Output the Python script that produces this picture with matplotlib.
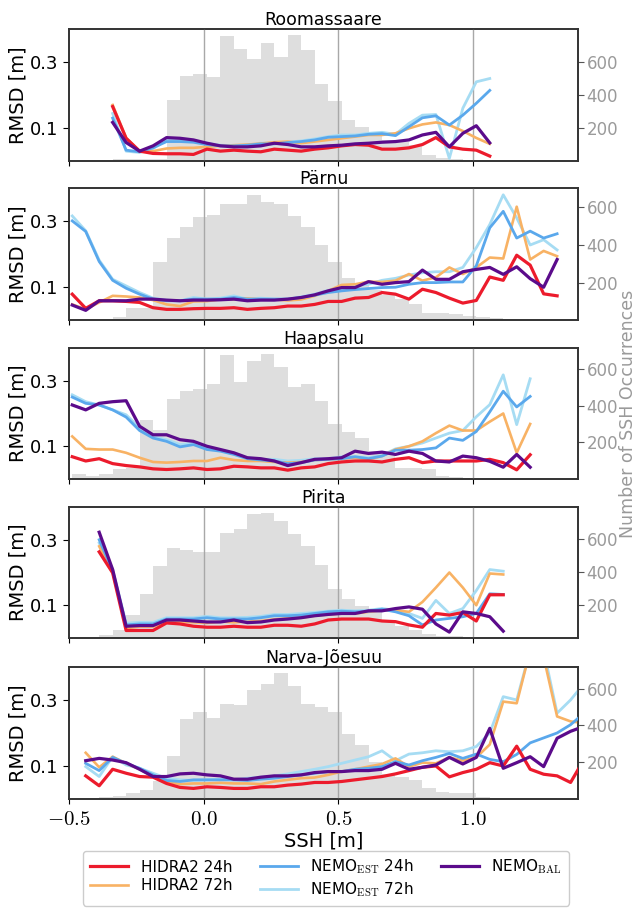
"""
RMSD vs SSH for five Estonian stations, with the SSH histogram behind
"""
import numpy as np
import matplotlib
matplotlib.use('Agg')
import matplotlib.pyplot as plt

plt.rcParams['font.family'] = 'DejaVu Sans'
plt.rcParams['mathtext.fontset'] = 'cm'

stations = ['Roomassaare', 'Pärnu', 'Haapsalu', 'Pirita', 'Narva-Jõesuu']

# left edges of the 0.05 m SSH bins (the RMSD points sit on the same grid)
ssh = np.round(-0.488 + 0.05 * np.arange(39), 3)

# index of the first RMSD point on the grid, per station
first_bin = [3, 0, 0, 2, 1]

# --- Roomassaare
roo_h24 = [0.165, 0.069, 0.030, 0.023, 0.022, 0.022, 0.020, 0.036, 0.030, 0.033,
           0.030, 0.028, 0.036, 0.033, 0.030, 0.036, 0.040, 0.046, 0.050, 0.048,
           0.036, 0.036, 0.040, 0.050, 0.071, 0.043, 0.036, 0.033, 0.015]
roo_h72 = [0.170, 0.070, 0.030, 0.030, 0.038, 0.040, 0.040, 0.043, 0.046, 0.048,
           0.050, 0.053, 0.057, 0.059, 0.054, 0.059, 0.064, 0.069, 0.074, 0.079,
           0.079, 0.084, 0.099, 0.111, 0.117, 0.109, 0.091, 0.070, 0.052]
roo_e24 = [0.130, 0.033, 0.028, 0.040, 0.059, 0.059, 0.057, 0.050, 0.046, 0.046,
           0.048, 0.052, 0.052, 0.056, 0.059, 0.064, 0.072, 0.074, 0.076, 0.081,
           0.083, 0.077, 0.104, 0.131, 0.137, 0.109, 0.139, 0.175, 0.214]
roo_e72 = [0.144, 0.030, 0.026, 0.038, 0.064, 0.064, 0.059, 0.054, 0.048, 0.046,
           0.048, 0.054, 0.054, 0.057, 0.061, 0.067, 0.074, 0.079, 0.079, 0.084,
           0.087, 0.081, 0.114, 0.139, 0.141, 0.008, 0.160, 0.240, 0.250]
roo_bal = [0.117, 0.056, 0.030, 0.046, 0.071, 0.069, 0.064, 0.054, 0.046, 0.043,
           0.043, 0.046, 0.054, 0.050, 0.043, 0.043, 0.046, 0.048, 0.052, 0.054,
           0.057, 0.059, 0.064, 0.079, 0.087, 0.043, 0.084, 0.107, 0.055]
roo_hist = [0, 0, 0, 15, 15, 15, 15, 370, 511, 527, 505, 753, 677, 616, 713, 628,
            760, 673, 465, 364, 248, 208, 174, 127, 117, 97, 36, 20, 10, 5, 3]

# --- Pärnu
par_h24 = [0.079, 0.036, 0.059, 0.059, 0.057, 0.054, 0.038, 0.033, 0.033, 0.035,
           0.036, 0.036, 0.038, 0.033, 0.036, 0.038, 0.043, 0.043, 0.048, 0.057,
           0.057, 0.067, 0.069, 0.084, 0.079, 0.064, 0.094, 0.084, 0.067, 0.052,
           0.060, 0.131, 0.121, 0.197, 0.167, 0.080, 0.074]
par_h72 = [0.048, 0.033, 0.054, 0.074, 0.072, 0.069, 0.061, 0.048, 0.043, 0.057,
           0.058, 0.063, 0.063, 0.066, 0.063, 0.063, 0.060, 0.063, 0.074, 0.089,
           0.107, 0.109, 0.117, 0.116, 0.120, 0.140, 0.120, 0.130, 0.160, 0.140,
           0.160, 0.190, 0.187, 0.344, 0.184, 0.210, 0.194]
par_e24 = [0.301, 0.269, 0.178, 0.121, 0.097, 0.079, 0.064, 0.059, 0.059, 0.064,
           0.064, 0.064, 0.069, 0.064, 0.064, 0.064, 0.064, 0.069, 0.076, 0.084,
           0.089, 0.093, 0.096, 0.099, 0.100, 0.109, 0.114, 0.114, 0.116, 0.116,
           0.165, 0.280, 0.330, 0.249, 0.270, 0.249, 0.262]
par_e72 = [0.316, 0.271, 0.182, 0.124, 0.104, 0.084, 0.067, 0.061, 0.059, 0.069,
           0.064, 0.067, 0.074, 0.064, 0.067, 0.064, 0.064, 0.071, 0.079, 0.091,
           0.094, 0.104, 0.109, 0.121, 0.127, 0.137, 0.144, 0.147, 0.147, 0.160,
           0.220, 0.290, 0.380, 0.310, 0.228, 0.244, 0.213]
par_bal = [0.046, 0.030, 0.059, 0.059, 0.059, 0.064, 0.064, 0.061, 0.059, 0.061,
           0.061, 0.062, 0.064, 0.059, 0.061, 0.061, 0.064, 0.069, 0.077, 0.089,
           0.099, 0.099, 0.117, 0.109, 0.114, 0.117, 0.152, 0.124, 0.124, 0.147,
           0.154, 0.160, 0.139, 0.162, 0.126, 0.100, 0.184]
par_hist = [0, 0, 0, 18, 64, 64, 308, 436, 498, 548, 562, 616, 616, 669, 628, 616,
            557, 495, 402, 308, 224, 192, 160, 135, 112, 89, 41, 41, 32, 23, 18,
            10, 5]

# --- Haapsalu
haa_h24 = [0.068, 0.055, 0.062, 0.047, 0.041, 0.037, 0.031, 0.029, 0.031, 0.034,
           0.029, 0.031, 0.039, 0.037, 0.034, 0.034, 0.027, 0.034, 0.037, 0.047,
           0.052, 0.055, 0.055, 0.052, 0.060, 0.065, 0.050, 0.055, 0.055, 0.055,
           0.055, 0.060, 0.050, 0.028, 0.074]
haa_h72 = [0.130, 0.092, 0.090, 0.090, 0.080, 0.065, 0.052, 0.050, 0.052, 0.055,
           0.055, 0.065, 0.058, 0.055, 0.055, 0.052, 0.050, 0.052, 0.058, 0.060,
           0.062, 0.065, 0.060, 0.070, 0.090, 0.100, 0.115, 0.140, 0.163, 0.148,
           0.148, 0.175, 0.200, 0.080, 0.168]
haa_e24 = [0.250, 0.231, 0.226, 0.211, 0.189, 0.148, 0.125, 0.115, 0.098, 0.105,
           0.090, 0.085, 0.075, 0.062, 0.058, 0.055, 0.047, 0.050, 0.058, 0.060,
           0.062, 0.068, 0.062, 0.070, 0.088, 0.088, 0.090, 0.095, 0.125, 0.118,
           0.145, 0.205, 0.268, 0.220, 0.252]
haa_e72 = [0.257, 0.236, 0.226, 0.211, 0.196, 0.156, 0.130, 0.120, 0.105, 0.110,
           0.095, 0.088, 0.078, 0.065, 0.060, 0.060, 0.055, 0.057, 0.062, 0.062,
           0.068, 0.068, 0.065, 0.072, 0.092, 0.100, 0.110, 0.125, 0.140, 0.148,
           0.190, 0.227, 0.318, 0.166, 0.306]
haa_bal = [0.226, 0.211, 0.231, 0.236, 0.239, 0.161, 0.135, 0.135, 0.120, 0.115,
           0.100, 0.090, 0.080, 0.065, 0.062, 0.055, 0.041, 0.050, 0.060, 0.062,
           0.065, 0.085, 0.078, 0.082, 0.075, 0.085, 0.078, 0.055, 0.052, 0.070,
           0.065, 0.054, 0.036, 0.075, 0.036]
haa_hist = [29, 15, 29, 55, 60, 322, 267, 436, 482, 495, 518, 678, 531, 647, 683,
            615, 506, 518, 427, 299, 256, 225, 152, 134, 60, 60, 55, 15, 11, 5]

# --- Pirita
pir_h24 = [0.263, 0.199, 0.023, 0.023, 0.023, 0.046, 0.043, 0.036, 0.033, 0.033,
           0.036, 0.033, 0.033, 0.039, 0.039, 0.036, 0.043, 0.055, 0.058, 0.058,
           0.058, 0.052, 0.050, 0.040, 0.033, 0.075, 0.070, 0.078, 0.052, 0.132,
           0.132]
pir_h72 = [0.280, 0.200, 0.030, 0.035, 0.035, 0.050, 0.050, 0.048, 0.046, 0.050,
           0.048, 0.050, 0.052, 0.057, 0.060, 0.062, 0.068, 0.072, 0.075, 0.075,
           0.080, 0.085, 0.085, 0.080, 0.110, 0.154, 0.200, 0.154, 0.100, 0.197,
           0.194]
pir_e24 = [0.300, 0.205, 0.040, 0.043, 0.043, 0.058, 0.058, 0.058, 0.062, 0.058,
           0.058, 0.058, 0.062, 0.068, 0.068, 0.070, 0.075, 0.080, 0.082, 0.080,
           0.082, 0.088, 0.080, 0.068, 0.040, 0.055, 0.060, 0.065, 0.075, 0.135,
           0.133]
pir_e72 = [0.290, 0.210, 0.045, 0.048, 0.048, 0.062, 0.062, 0.062, 0.066, 0.062,
           0.062, 0.063, 0.066, 0.072, 0.072, 0.075, 0.078, 0.082, 0.085, 0.083,
           0.085, 0.090, 0.085, 0.075, 0.060, 0.115, 0.075, 0.090, 0.145, 0.209,
           0.204]
pir_bal = [0.323, 0.209, 0.036, 0.038, 0.038, 0.055, 0.055, 0.052, 0.049, 0.049,
           0.055, 0.047, 0.049, 0.055, 0.058, 0.062, 0.068, 0.072, 0.075, 0.075,
           0.083, 0.083, 0.090, 0.095, 0.088, 0.043, 0.018, 0.080, 0.075, 0.065,
           0.021]
pir_hist = [0, 0, 20, 47, 142, 265, 438, 550, 535, 523, 523, 641, 662, 753, 759,
            712, 631, 560, 442, 299, 238, 193, 163, 112, 75, 47, 26, 14, 10]

# --- Narva-Jõesuu
nar_h24 = [0.070, 0.040, 0.090, 0.078, 0.068, 0.066, 0.047, 0.035, 0.032, 0.037,
           0.035, 0.032, 0.032, 0.037, 0.037, 0.042, 0.045, 0.050, 0.050, 0.053,
           0.058, 0.063, 0.068, 0.076, 0.086, 0.096, 0.100, 0.067, 0.080, 0.090,
           0.110, 0.100, 0.160, 0.090, 0.075, 0.070, 0.050, 0.120]
nar_h72 = [0.140, 0.096, 0.128, 0.108, 0.090, 0.068, 0.053, 0.045, 0.047, 0.047,
           0.049, 0.047, 0.047, 0.045, 0.053, 0.058, 0.063, 0.065, 0.073, 0.083,
           0.090, 0.098, 0.106, 0.123, 0.098, 0.110, 0.108, 0.126, 0.116, 0.126,
           0.165, 0.295, 0.290, 0.450, 0.430, 0.250, 0.235, 0.230]
nar_e24 = [0.108, 0.086, 0.126, 0.108, 0.093, 0.073, 0.056, 0.053, 0.058, 0.058,
           0.058, 0.058, 0.056, 0.060, 0.063, 0.068, 0.073, 0.078, 0.083, 0.083,
           0.090, 0.093, 0.098, 0.113, 0.103, 0.116, 0.126, 0.138, 0.123, 0.136,
           0.120, 0.113, 0.135, 0.170, 0.185, 0.200, 0.225, 0.260]
nar_e72 = [0.098, 0.068, 0.128, 0.103, 0.093, 0.078, 0.063, 0.058, 0.056, 0.058,
           0.060, 0.058, 0.063, 0.066, 0.070, 0.076, 0.083, 0.090, 0.098, 0.108,
           0.118, 0.128, 0.146, 0.116, 0.136, 0.140, 0.146, 0.143, 0.146, 0.159,
           0.200, 0.310, 0.300, 0.450, 0.450, 0.260, 0.300, 0.350]
nar_bal = [0.116, 0.123, 0.118, 0.110, 0.090, 0.068, 0.068, 0.076, 0.078, 0.073,
           0.070, 0.060, 0.060, 0.066, 0.070, 0.070, 0.073, 0.080, 0.083, 0.083,
           0.086, 0.086, 0.090, 0.108, 0.090, 0.096, 0.103, 0.126, 0.106, 0.126,
           0.214, 0.093, 0.110, 0.128, 0.098, 0.184, 0.205, 0.220]
nar_hist = [5, 5, 11, 15, 33, 47, 96, 233, 433, 473, 442, 515, 509, 593, 624, 684,
            615, 515, 502, 473, 351, 291, 200, 138, 120, 105, 60, 36, 33, 33, 10,
            5, 5, 8, 8, 5]

rmsd = [
    [roo_h24, roo_h72, roo_e24, roo_e72, roo_bal],
    [par_h24, par_h72, par_e24, par_e72, par_bal],
    [haa_h24, haa_h72, haa_e24, haa_e72, haa_bal],
    [pir_h24, pir_h72, pir_e24, pir_e72, pir_bal],
    [nar_h24, nar_h72, nar_e24, nar_e72, nar_bal],
]
hists = [roo_hist, par_hist, haa_hist, pir_hist, nar_hist]

labels = ['HIDRA2 24h', 'HIDRA2 72h', r'NEMO$_{\rm EST}$ 24h',
          r'NEMO$_{\rm EST}$ 72h', r'NEMO$_{\rm BAL}$']
colors = ['#ec1b2c', '#f8b264', '#5aa8ec', '#a6dcf3', '#5b0b8b']
widths = [2.3, 1.9, 2.0, 2.0, 2.3]
zorders = [4, 2.5, 3, 2, 5]

# axes boxes in figure fractions (left, width shared)
bottoms = [0.824, 0.650, 0.4765, 0.3027, 0.1268]
heights = [0.1443, 0.1443, 0.1432, 0.1432, 0.1443]


def main():
    fig = plt.figure(figsize=(6.42, 9.15), dpi=100)
    handles = []
    for i, name in enumerate(stations):
        ax = fig.add_axes([0.1075, bottoms[i], 0.793, heights[i]])
        ax2 = ax.twinx()

        # histogram of SSH occurrences on the right axis
        counts = hists[i]
        ax2.bar(ssh[:len(counts)], counts, width=0.05, align='edge',
                color='#dedede', lw=0, zorder=1)
        ax2.set_yticks([200, 400, 600])
        ax2.tick_params(axis='y', labelsize=12, labelcolor='#9a9a9a',
                        color='#555555', length=4, pad=2)

        ax.set_zorder(ax2.get_zorder() + 1)
        ax.patch.set_visible(False)

        k0 = first_bin[i]
        for j, vals in enumerate(rmsd[i]):
            x = ssh[k0:k0 + len(vals)]
            ln, = ax.plot(x, vals, c=colors[j], lw=widths[j],
                          zorder=zorders[j], label=labels[j],
                          solid_joinstyle='round')
            if i == 0:
                handles.append(ln)

        for xv in (0.0, 0.5, 1.0):
            ax.axvline(xv, c='#a8a8a8', lw=1, zorder=0)

        ax.set_xlim(-0.5, 1.39)
        ax.set_ylim(0, 0.4)
        ax.set_yticks([0.1, 0.3])
        ax.set_yticklabels(['0.1', '0.3'])
        ax.tick_params(axis='y', labelsize=13, length=4)
        ax.set_xticks([-0.5, 0.0, 0.5, 1.0])
        ax.set_ylabel('RMSD [m]', fontsize=14, labelpad=2)
        ax.set_title(name, fontsize=12.5, pad=3)
        for sp in list(ax.spines.values()) + list(ax2.spines.values()):
            sp.set_color('#333333')
            sp.set_linewidth(1.2)

        if i == len(stations) - 1:
            ax.set_xticklabels([r'$-0.5$', r'$0.0$', r'$0.5$', r'$1.0$'],
                               fontsize=15)
            ax.set_xlabel('SSH [m]', fontsize=14, labelpad=2)
        else:
            ax.set_xticklabels([])

        if i == 2:
            ax2.set_ylabel('Number of SSH Occurrences', fontsize=12.5,
                           color='#9a9a9a', labelpad=1)

    fig.legend(handles, labels, loc='lower center',
               bbox_to_anchor=(0.508, 0.002), ncol=3, fontsize=11,
               handlelength=2.5, columnspacing=1.8, borderpad=0.45,
               labelspacing=0.25, framealpha=1, edgecolor='#cccccc')

    plt.savefig('out.png', dpi=100)


if __name__ == '__main__':
    main()
